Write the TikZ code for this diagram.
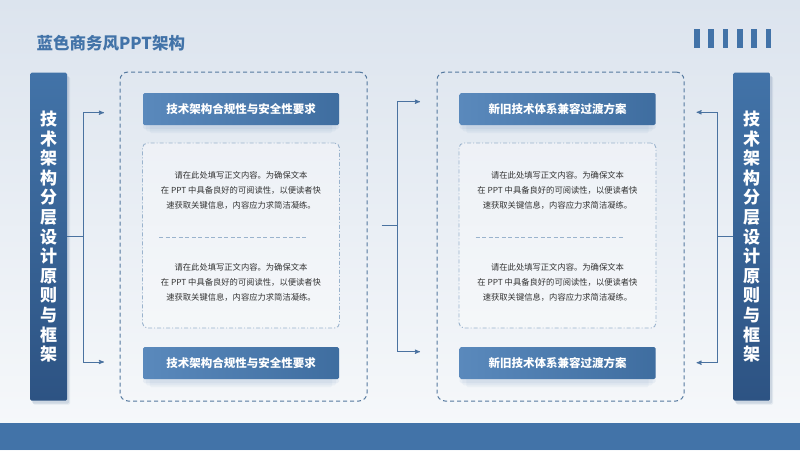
\documentclass[tikz,border=0pt]{standalone}
\usepackage{fontspec}
\setmainfont{Noto Sans CJK SC}
\usetikzlibrary{arrows}
\usetikzlibrary{shapes}
\usetikzlibrary{shadows}
\usepackage{xcolor}
\definecolor{bgtop}{HTML}{DCE4EE}
\definecolor{bgbot}{HTML}{F7F9FB}
\definecolor{mainblue}{HTML}{4273A8}
\definecolor{deepblue}{HTML}{2D5383}
\definecolor{lightblue}{HTML}{5A89BC}
\definecolor{linkblue}{HTML}{4A72A0}
\definecolor{dashblue}{HTML}{55799F}
\definecolor{dotblue}{HTML}{9AB3CD}
\definecolor{bodygray}{HTML}{333333}
\tikzset{
  colbox/.style={rectangle, rounded corners=1.5pt, minimum width=37pt, minimum height=328pt,
    top color=mainblue, bottom color=deepblue, text=white, align=center,
    font=\fontsize{17}{19.6}\selectfont\bfseries,
    drop shadow={shadow xshift=2pt, shadow yshift=-3pt, opacity=0.12, fill=deepblue},
    drop shadow={shadow xshift=3pt, shadow yshift=-4pt, opacity=0.08, fill=deepblue}},
  panelbox/.style={draw=dashblue, dashed, dash pattern=on 4pt off 3pt, line width=1pt,
    rounded corners=8pt, minimum width=247pt, minimum height=329pt},
  headbox/.style={rectangle, rounded corners=1.5pt, minimum width=196pt, minimum height=32pt,
    left color=lightblue, right color=mainblue!95!black, text=white,
    font=\fontsize{11.5}{13}\selectfont\bfseries,
    drop shadow={shadow xshift=0pt, shadow yshift=-4pt, opacity=0.07, fill=mainblue},
    drop shadow={shadow xshift=0pt, shadow yshift=-7pt, shadow scale=0.97, opacity=0.06, fill=mainblue},
    drop shadow={shadow xshift=0pt, shadow yshift=-10pt, shadow scale=0.93, opacity=0.05, fill=mainblue}},
  innerbox/.style={draw=dotblue, dash pattern=on 4pt off 2pt on 1pt off 2pt, line width=0.9pt,
    rounded corners=5pt, minimum width=197pt, minimum height=185pt, fill=white, fill opacity=0.35},
  bodytext/.style={align=center, text=bodygray, font=\fontsize{8.3}{15}\selectfont},
  conn/.style={draw=linkblue, line width=0.9pt},
  >=stealth'
}
\begin{document}
\begin{tikzpicture}[x=1pt,y=-1pt]
\useasboundingbox (0,0) rectangle (800,450);
\shade[top color=bgtop, bottom color=bgbot] (0,0) rectangle (800,450);
\fill[mainblue] (0,423) rectangle (800,450);
\node[anchor=west, text=mainblue, font=\fontsize{16.5}{18}\selectfont\bfseries] (title) at (33,43) {蓝色商务风PPT架构};
\foreach \i in {0,...,5}
  \fill[mainblue] (694+14.3*\i,29) rectangle ++(5.6,19);

\node[colbox] (lcol) at (48.7,236.7) {技\\术\\架\\构\\分\\层\\设\\计\\原\\则\\与\\框\\架};
\node[colbox] (rcol) at (751.7,236.7) {技\\术\\架\\构\\分\\层\\设\\计\\原\\则\\与\\框\\架};

\node[panelbox] (lpanel) at (243.5,236.5) {};
\node[panelbox] (rpanel) at (560.5,236.5) {};

\node[innerbox] (linner) at (241,235.5) {};
\node[innerbox] (rinner) at (557.5,235.5) {};
\draw[draw=dotblue, dashed, dash pattern=on 4pt off 2.5pt, line width=0.9pt] (159,237) -- (308,237);
\draw[draw=dotblue, dashed, dash pattern=on 4pt off 2.5pt, line width=0.9pt] (475.5,237) -- (624.5,237);

\node[headbox] (lhead1) at (241,109) {技术架构合规性与安全性要求};
\node[headbox] (lhead2) at (241,363) {技术架构合规性与安全性要求};
\node[headbox] (rhead1) at (557.5,109) {新旧技术体系兼容过渡方案};
\node[headbox] (rhead2) at (557.5,363) {新旧技术体系兼容过渡方案};

\node[bodytext] (ltext1) at (241,190) {请在此处填写正文内容。为确保文本\\在 PPT 中具备良好的可阅读性，以便读者快\\速获取关键信息，内容应力求简洁凝练。};
\node[bodytext] (ltext2) at (241,282) {请在此处填写正文内容。为确保文本\\在 PPT 中具备良好的可阅读性，以便读者快\\速获取关键信息，内容应力求简洁凝练。};
\node[bodytext] (rtext1) at (557.5,190) {请在此处填写正文内容。为确保文本\\在 PPT 中具备良好的可阅读性，以便读者快\\速获取关键信息，内容应力求简洁凝练。};
\node[bodytext] (rtext2) at (557.5,282) {请在此处填写正文内容。为确保文本\\在 PPT 中具备良好的可阅读性，以便读者快\\速获取关键信息，内容应力求简洁凝练。};

\coordinate (lsplit) at (83.3,236.7);
\coordinate (lto1) at (104,112.7);
\coordinate (lto2) at (104,362);
\draw[conn] (lcol.east) -- (lsplit);
\draw[conn,->] (lsplit) |- (lto1);
\draw[conn,->] (lsplit) |- (lto2);

\coordinate (mstart) at (381.7,225.7);
\coordinate (msplit) at (397.7,225.7);
\coordinate (mto1) at (420,101.7);
\coordinate (mto2) at (420,351.7);
\draw[conn] (mstart) -- (msplit);
\draw[conn,->] (msplit) |- (mto1);
\draw[conn,->] (msplit) |- (mto2);

\coordinate (rsplit) at (717.3,236.7);
\coordinate (rto1) at (696.5,112.3);
\coordinate (rto2) at (696.5,362.7);
\draw[conn] (rcol.west) -- (rsplit);
\draw[conn,->] (rsplit) |- (rto1);
\draw[conn,->] (rsplit) |- (rto2);
\end{tikzpicture}
\end{document}
